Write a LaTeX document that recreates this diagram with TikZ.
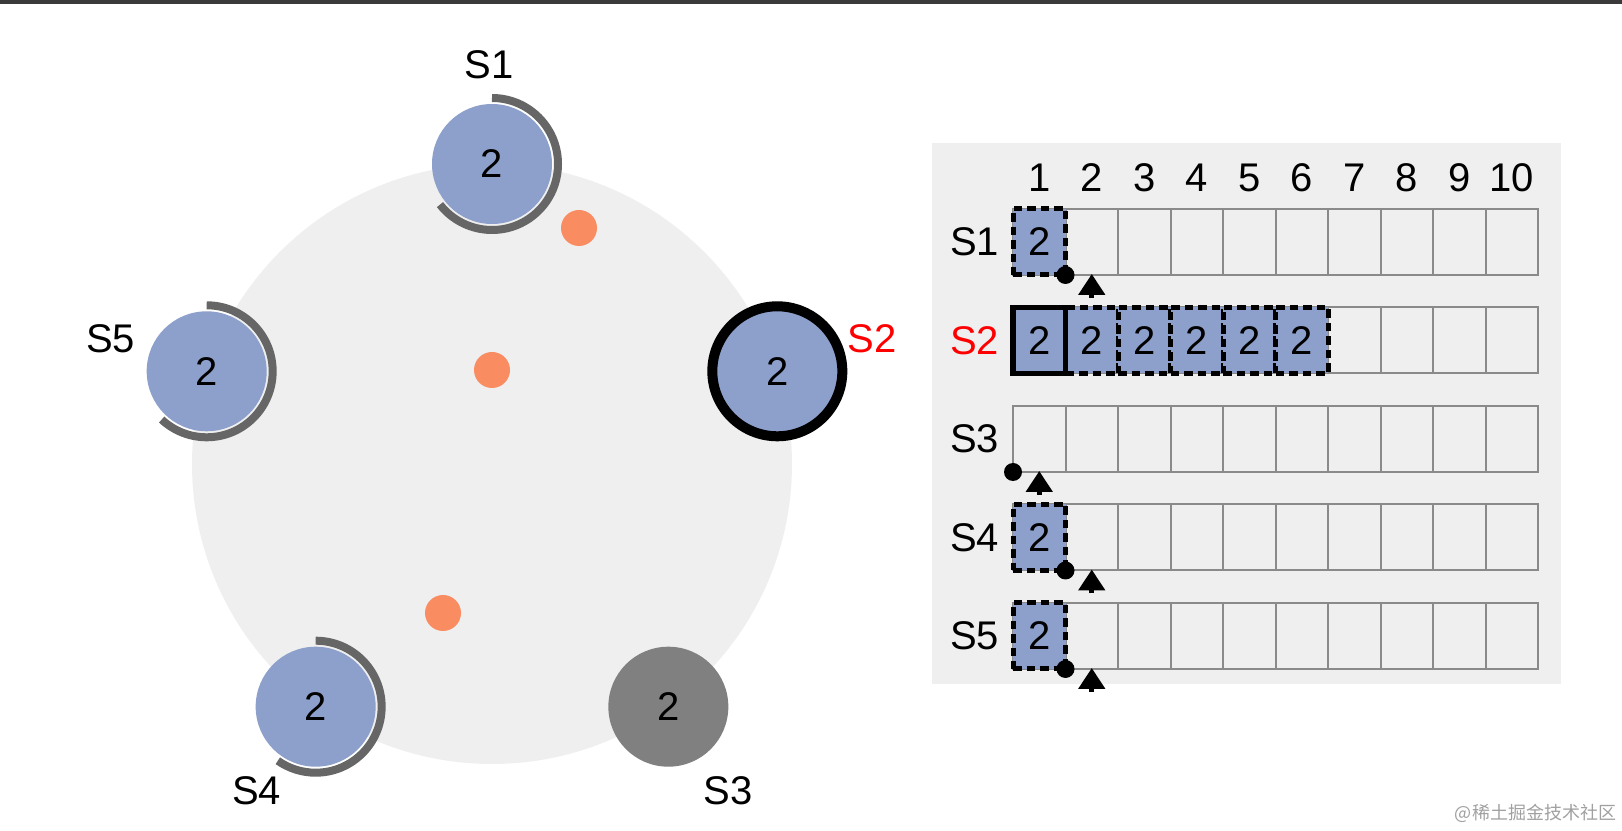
\documentclass[tikz,border=0pt]{standalone}
\usepackage{fontspec}
\setmainfont{Liberation Sans}
\newfontfamily\cjkfont{Noto Sans CJK SC}
\usepackage{tikz}
\usetikzlibrary{arrows.meta, positioning, calc}
\definecolor{nodeblue}{RGB}{140,160,203}
\definecolor{ringgray}{RGB}{102,102,102}
\definecolor{downgray}{RGB}{128,128,128}
\definecolor{panelgray}{RGB}{239,239,239}
\definecolor{votedot}{RGB}{250,140,98}
\definecolor{gridgray}{RGB}{138,138,138}
\definecolor{topbar}{RGB}{58,58,58}
\definecolor{wmgray}{RGB}{160,160,160}

\begin{document}
\begin{tikzpicture}[x=1pt, y=1pt,
    every node/.style={font=\fontsize{40}{42}\selectfont, inner sep=0pt, outer sep=0pt},
    server/.style={circle, fill=nodeblue, minimum size=120pt},
    leader/.style={server, draw=black, line width=10pt, minimum size=130pt},
    down/.style={server, fill=downgray},
    timer/.style={draw=ringgray, line width=8pt},
    vote/.style={circle, fill=votedot, minimum size=36pt},
    cell/.style={draw=gridgray, line width=2pt, minimum width=52.5pt, minimum height=66pt},
    entry/.style={cell, fill=nodeblue, draw=black, line width=5pt, dash pattern=on 8.5pt off 5pt},
    commit/.style={circle, fill=black, minimum size=18pt},
    nextidx/.style={line width=5pt, -{Triangle[width=26pt, length=21pt]}}]
  \useasboundingbox (0,0) rectangle (1622,830);
  \fill[topbar] (0,826) rectangle (1622,830);

  \coordinate (ctr) at (492,366);
  \fill[panelgray] (ctr) circle[radius=300];
  \foreach \n/\a/\sty in {1/90/server, 2/18/leader, 3/-54/down, 4/-126/server, 5/162/server}
    \node[\sty] (s\n) at ($(ctr)+(\a:300)$) {2};
  \foreach \n/\e in {1/-142, 4/-125, 5/-133}
    \draw[timer] ($(s\n)+(90:66)$) arc[start angle=90, end angle=\e, radius=66];

  \node[vote] (v1) at (579,602) {};
  \node[vote] (v2) at (492,460) {};
  \node[vote] (v3) at (443,217) {};

  \node (l1) at ($(s1)+(-3,99)$) {S1};
  \node[text=red] (l2) at ($(s2)+(95,33)$) {S2};
  \node (l3) at ($(s3)+(60,-84)$) {S3};
  \node (l4) at ($(s4)+(-59,-84)$) {S4};
  \node (l5) at ($(s5)+(-96,33)$) {S5};

  \fill[panelgray] (932,146) rectangle (1561,687);
  \begin{scope}[shift={(1013,621)}]
    \foreach \r in {1,...,5}
      \foreach \k in {1,...,10}
        \node[cell] (c\r-\k) at ({(\k-0.5)*52.5}, {-(\r-1)*98.5-33}) {};
  \end{scope}
  \foreach \k in {1,...,10}
    \node (n\k) at ($(c1-\k.north)+(0,31)$) {\k};
  \foreach \r/\col in {1/black, 2/red, 3/black, 4/black, 5/black}
    \node[anchor=east, text=\col] (r\r) at ($(c\r-1.west)+(-14,0)$) {S\r};

  \foreach \r in {1,4,5}
    \node[entry] (e\r-1) at (c\r-1) {2};
  \foreach \k in {2,...,6}
    \node[entry] (e2-\k) at (c2-\k) {2};
  \node[entry, solid, line width=5.5pt] (e2-1) at (c2-1) {2};

  \foreach \r/\k in {1/1, 4/1, 5/1}
    \node[commit] (m\r) at (c\r-\k.south east) {};
  \node[commit] (m3) at (c3-1.south west) {};
  \foreach \r/\k in {1/2, 3/1, 4/2, 5/2}{
    \coordinate (a\r) at ($(c\r-\k.south)+(0,-23)$);
    \draw[nextidx] (a\r) -- ($(c\r-\k.south)+(0,1)$);
  }

  \node[anchor=east, text=wmgray, font=\cjkfont\fontsize{18}{20}\selectfont] (wm) at (1616,17) {@稀土掘金技术社区};
\end{tikzpicture}
\end{document}
